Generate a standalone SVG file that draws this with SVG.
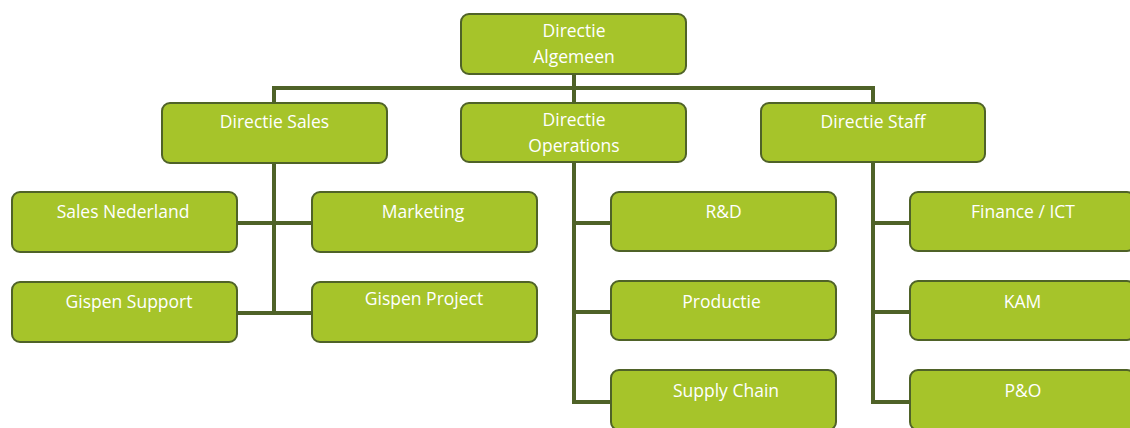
<svg xmlns="http://www.w3.org/2000/svg" width="1130" height="428" viewBox="0 0 1130 428">
<style>
.box{fill:#a6c42a;stroke:#4f6228;stroke-width:2}
.lbl{fill:#fff;font-family:"Open Sans","Liberation Sans",sans-serif;font-size:17.5px;text-anchor:middle}
.ln{stroke:#4f6228;stroke-width:4;fill:none}
</style>
<rect width="1130" height="428" fill="#fff"/>
<g id="connectors">
<path class="ln" d="M574 74V103M274 88H873M274 86V103M873 86V103"/>
<path class="ln" d="M274 163V313M237 223H312M237 313H312"/>
<path class="ln" d="M574 162V402H611M574 223H611M574 312H611"/>
<path class="ln" d="M873 162V402H910M873 223H910M873 312H910"/>
</g>
<g id="n-algemeen"><rect class="box" x="461" y="14" width="225" height="60" rx="8"/><text class="lbl" x="574" y="37">Directie</text><text class="lbl" x="574" y="63">Algemeen</text></g>
<g id="n-sales"><rect class="box" x="162" y="103" width="225" height="60" rx="8"/><text class="lbl" x="274.5" y="128">Directie Sales</text></g>
<g id="n-operations"><rect class="box" x="461" y="103" width="225" height="59" rx="8"/><text class="lbl" x="574" y="126">Directie</text><text class="lbl" x="574" y="152">Operations</text></g>
<g id="n-staff"><rect class="box" x="761" y="103" width="224" height="59" rx="8"/><text class="lbl" x="873" y="128">Directie Staff</text></g>
<g id="n-salesnl"><rect class="box" x="12" y="192" width="225" height="60" rx="8"/><text class="lbl" x="123" y="218">Sales Nederland</text></g>
<g id="n-marketing"><rect class="box" x="312" y="192" width="225" height="60" rx="8"/><text class="lbl" x="423" y="218">Marketing</text></g>
<g id="n-support"><rect class="box" x="12" y="282" width="225" height="60" rx="8"/><text class="lbl" x="129" y="308">Gispen Support</text></g>
<g id="n-project"><rect class="box" x="312" y="282" width="225" height="60" rx="8"/><text class="lbl" x="424" y="305">Gispen Project</text></g>
<g id="n-rd"><rect class="box" x="611" y="192" width="225" height="59" rx="8"/><text class="lbl" x="723.5" y="218">R&amp;D</text></g>
<g id="n-productie"><rect class="box" x="611" y="281" width="225" height="59" rx="8"/><text class="lbl" x="721.5" y="308">Productie</text></g>
<g id="n-supply"><rect class="box" x="611" y="370" width="225" height="60" rx="8"/><text class="lbl" x="726" y="397">Supply Chain</text></g>
<g id="n-finance"><rect class="box" x="910" y="192" width="225" height="59" rx="8"/><text class="lbl" x="1023" y="218">Finance / ICT</text></g>
<g id="n-kam"><rect class="box" x="910" y="281" width="225" height="59" rx="8"/><text class="lbl" x="1022.5" y="308">KAM</text></g>
<g id="n-po"><rect class="box" x="910" y="370" width="225" height="60" rx="8"/><text class="lbl" x="1023" y="397">P&amp;O</text></g>
</svg>
